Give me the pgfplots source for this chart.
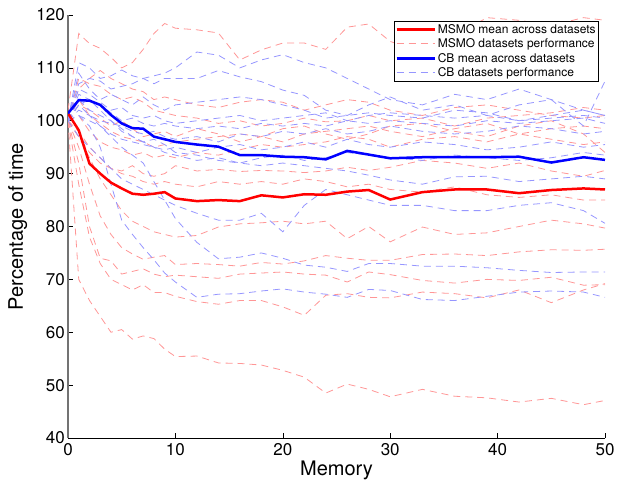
\documentclass[border=0pt]{standalone}
\usepackage{fontspec}
\setmainfont{TeX Gyre Heros}
\usepackage{pgfplots}
\usepackage{pgfplotstable}
\pgfplotsset{compat=1.18}

\definecolor{msmoL}{RGB}{255,150,150}
\definecolor{cbL}{RGB}{150,150,255}

% MSMO: mean (m) and individual datasets (r1..r13)
\pgfplotstableread{
x  m     r1    r2    r3    r4    r5    r6    r7    r8    r9    r10   r11   r12   r13
0  101.4 100   100   100   100   100   100   100   100   100   100   100   102   100
1  98.2  70    88    92    95    97    98    108   104   101   103   97    116.5 106
2  91.9  66    78    80    88    93    95    107   101   98    102   94    114.6 108
3  90    63    73    74    82    89    93    106.5 99.5  96    100.5 92    113.7 109.5
4  88.3  60    70    73.5  78.5  86    91    105   98    95    99    91    112   108
5  87.2  60.5  69    71    76    83    90    104   97    94.5  100   90.5  110   107
6  86.2  58.7  68    71.5  74.8  81    89.5  104.5 96.5  93.5  98.5  91.5  111   106
7  86    59.3  69    72    73.8  80    88.5  103.5 96    94    97    90    113.5 105.5
8  86.2  58.8  67.5  71    74.2  79    88    102   95    93    97.5  89.5  116.5 104
9  86.5  56.8  67.5  70.5  74.5  78.5  88.5  101.5 95.5  93.5  98    90    118.4 104.5
10 85.3  55.4  66.8  70.8  72.8  78    88    101   96    93    97    91.5  117.5 104
12 84.8  55.5  65.8  70.5  73    78.3  87.5  100.5 96.5  94    98.5  90.5  117.2 103
14 85    54.2  65.3  70.2  72.8  79.9  88.5  99.5  97    93.5  97.5  90.8  116.6 102.5
16 84.8  54.1  66    71    72.5  80.5  88    100   97.5  94.5  96    90.4  111.5 103.5
18 85.9  53.8  66    71.2  73.2  80.7  88.5  99    97    95.5  97    90.6  113.4 104
20 85.5  52.8  64.8  71.4  72.9  81    88    99.5  96    95    98.5  90.5  114.7 103.5
22 86.1  51.5  63.2  71    73.5  80.5  89    100.5 97.5  95.5  99    90.2  114.7 102
24 86    48.5  67    70.8  74.5  81    88.5  99.8  98    96    97.5  90.5  113.5 103
26 86.6  50.2  67.3  69.5  74    77.7  87.5  100   98.5  97    96.5  91.2  117.7 104
28 86.9  49.2  66.6  71.4  73.6  80    88    101   99    96.5  97.5  90.6  118.3 103.5
30 85.1  47.8  66.5  70.9  73.6  77.1  87    100   98    95    99    91.2  115   102
33 86.5  49.2  67.6  69.8  74.7  79.9  86.5  100.5 97    96.5  99.5  92.5  113   101
36 87    47.9  67.3  69.3  74.8  78.5  87.5  99    98.5  97    98    92    116   102.5
39 87    47.6  66.5  70    74.5  78.8  86    100.5 99.5  96    97    91    119.5 103
42 86.3  46.8  68    69.8  75.2  80    85.5  101   97.5  97.5  99    92    119   102
45 86.9  47.5  65.6  70.4  75.6  81.2  86    101.5 98.5  96.5  100   90.5  118   101
48 87.2  46.3  68    68.9  75.5  80.5  85    102.5 99    95.5  97.5  89.5  119.5 100.5
50 87    47.1  69.2  69    75.7  79.7  85    102   98.5  96    94    90.6  119   101
}\redtab

% CB: mean (m) and individual datasets (b1..b12)
\pgfplotstableread{
x  m     b1    b2    b3    b4    b5    b6    b7    b8    b9    b10   b11   b12
0  101.4 100   100   100   100   100   100   100   100   100   100   100   100
1  103.9 101   102   97    103   103   105   101   106   104   111   107   109
2  103.8 99    101   95    104   101   104   100   105   102   110   108   106
3  103   95    99    93    102   100   103   99    103.5 101   108   107.5 104
4  101.1 88    97    91    100   99.5  101.5 97.5  102   100   108.5 106   105
5  99.5  81.2  95    89    98    99    100   96.5  102.5 98.5  109.6 106.5 104
6  98.6  78.5  93.5  88    97    98    100.5 96    101   97    108.5 107   103
7  98.5  76    92    87    96    97.5  99.5  95.5  100.5 96    108   108   104.5
8  97    73.7  88.5  86    95    98    99    95    101   96.5  108.5 107   103
9  96.5  71.2  85    85    94    97    99.5  94.5  100   95.5  109   108   102
10 96    69.5  81.5  84    93.5  96.5  99    95    99.5  94    110   108   103
12 95.5  66.6  77    82.5  92.5  97    98.5  94    100   93.5  113   108   103.5
14 95.1  67.2  73.9  81.2  93    96    99    95    100.5 92.5  112.4 109.5 104
16 93.5  67.3  74.2  81.2  92    97.5  98.5  95.5  101   92    110   108.3 104.5
18 93.5  67.8  75    82.5  91.5  97    99.5  94.5  100   93    111.5 107.4 104
20 93.2  68.2  74    79    92    98    99    95    100.5 93.5  112.5 105.8 103
22 93.1  67.6  72.7  84    91.5  97.5  99.5  96    101   92.5  111   104.8 102
24 92.7  67.2  72.3  87    91    98.5  99    95    101.5 93    110   102   100.5
26 94.3  66.6  71.5  86    90.5  97.5  100   96.5  100   94    108   101   101
28 93.6  68.1  73    85    89.7  98    99.5  95.5  101   93.5  106   103   101.5
30 92.9  67.9  73    84    88.8  99    100   95    101.5 93    104   104.5 101
33 93.1  66.2  72.5  84    88    98    99.5  96    101   92.5  103   102   100.5
36 93.1  66    72.5  83    89.4  97.5  99    95.5  100.5 93.5  105   103   102
39 93.1  66.8  72.2  83    89.5  98    100   94.5  101   93    104   101   101.5
42 93.2  67.6  71.7  84    88.5  99    99.5  95    100   92.5  106   103   100
45 92.1  67.8  71.3  84.5  89    98.5  100   96    100.5 93    104   104   101
48 93.1  67.6  71.4  83    89.5  97.5  100.5 95    101   94    102   99    102
50 92.6  66.6  71.4  80.6  89    98    99.5  95.5  100.5 93.5  101   107.5 101
}\bluetab

\begin{document}
\begin{tikzpicture}
\tikzset{dashln/.style={line width=0.8pt, dash pattern=on 7pt off 5pt}}
\useasboundingbox (-68pt,-45pt) rectangle (550pt,438pt);
\begin{axis}[
  at={(0,0)}, anchor=south west,
  scale only axis, width=537pt, height=423pt,
  xmin=0, xmax=50, ymin=40, ymax=120,
  xtick={0,10,...,50}, ytick={40,50,...,120},
  axis x line*=bottom, axis y line*=left,
  x axis line style={-, line width=0.8pt, black},
  y axis line style={-, line width=1.4pt, black!55},
  tick align=inside, major tick length=5pt,
  tick style={black, line width=0.6pt},
  /pgf/number format/assume math mode=true,
  ticklabel style={font=\fontsize{17}{20}\selectfont},
  yticklabel style={inner xsep=3pt},
  xticklabel style={yshift=-2pt},
  xlabel={Memory}, ylabel={Percentage of time},
  label style={font=\fontsize{20}{24}\selectfont},
  xlabel style={at={(axis description cs:0.5,-0.076)}, anchor=center},
  ylabel style={at={(axis description cs:-0.0935,0.5)}, anchor=center},
  legend image code/.code={\draw[#1] (0pt,0pt) -- (38pt,0pt);},
  legend style={at={(0.989,0.9865)}, anchor=north east,
    font=\fontsize{12}{14}\selectfont, draw=black, line width=0.8pt,
    inner sep=1pt, cells={anchor=west}},
]
\addlegendimage{red, line width=2.5pt}
\addlegendentry{MSMO mean across datasets}
\addlegendimage{msmoL, line width=0.8pt, dash pattern=on 7pt off 5pt}
\addlegendentry{MSMO datasets performance}
\addlegendimage{blue, line width=2.5pt}
\addlegendentry{CB mean across datasets}
\addlegendimage{cbL, line width=0.8pt, dash pattern=on 7pt off 5pt}
\addlegendentry{CB datasets performance}

\pgfplotsinvokeforeach{r1,r2,r3,r4,r5,r6,r7,r8,r9,r10,r11,r12,r13}{
  \addplot[msmoL, dashln, forget plot] table[x=x, y=#1] {\redtab};
}
\pgfplotsinvokeforeach{b1,b2,b3,b4,b5,b6,b7,b8,b9,b10,b11,b12}{
  \addplot[cbL, dashln, forget plot] table[x=x, y=#1] {\bluetab};
}
\addplot[red, line width=2.5pt, forget plot] table[x=x, y=m] {\redtab};
\addplot[blue, line width=2.5pt, forget plot] table[x=x, y=m] {\bluetab};
\end{axis}
\end{tikzpicture}
\end{document}
